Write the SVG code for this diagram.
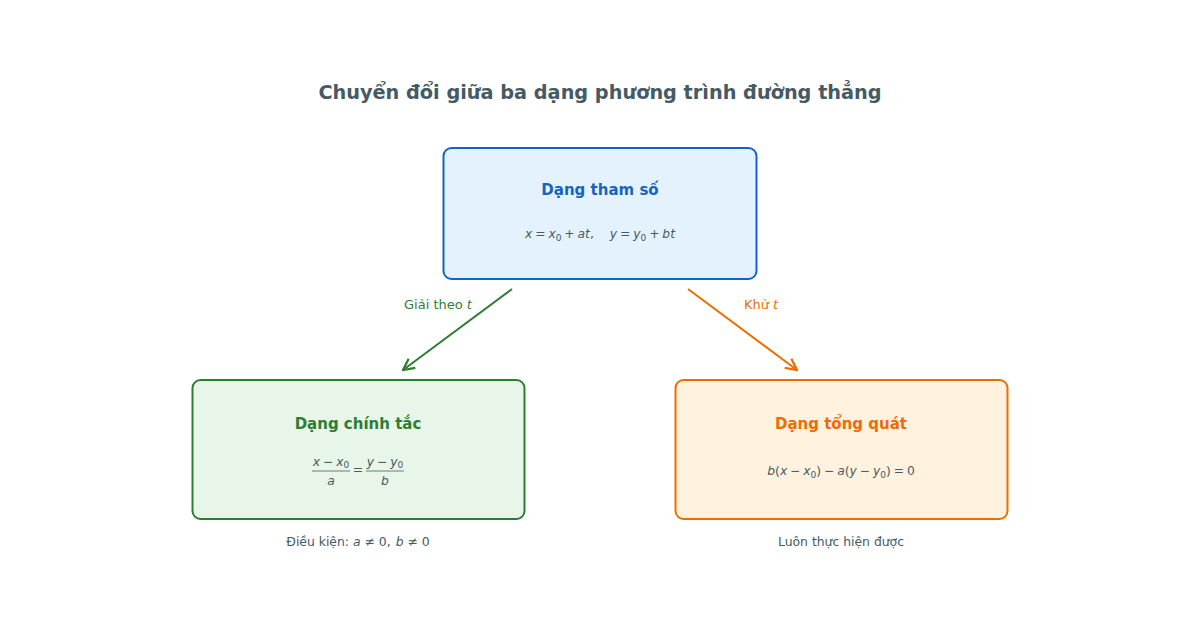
<svg xmlns="http://www.w3.org/2000/svg" width="1200" height="628" viewBox="0 0 1200 628">
<defs>
<style>
text{font-family:"DejaVu Sans","Noto Sans",sans-serif;}
.title{font-size:19.3px;font-weight:bold;fill:#455a64;}
.ntitle{font-size:15px;font-weight:bold;}
.math{font-size:12.3px;fill:#455a64;word-spacing:-1px;}
.i{font-style:italic;}
.sub{font-size:9px;}
.cap{font-size:12.4px;fill:#455a64;}
.lbl{font-size:13px;}
</style>
<marker id="ag" viewBox="0 0 10 10" refX="9" refY="5" markerWidth="7" markerHeight="7" orient="auto-start-reverse"><path d="M1,1 L9,5 L1,9" fill="none" stroke="#2e7d32" stroke-width="1.6"/></marker>
<marker id="ao" viewBox="0 0 10 10" refX="9" refY="5" markerWidth="7" markerHeight="7" orient="auto-start-reverse"><path d="M1,1 L9,5 L1,9" fill="none" stroke="#ef6c00" stroke-width="1.6"/></marker>
</defs>
<rect width="1200" height="628" fill="#ffffff"/>
<text class="title" x="600" y="99" text-anchor="middle">Chuyển đổi giữa ba dạng phương trình đường thẳng</text>

<g id="connectors">
<line x1="512" y1="289" x2="403" y2="370" stroke="#2e7d32" stroke-width="2" marker-end="url(#ag)"/>
<line x1="688" y1="289" x2="797" y2="370" stroke="#ef6c00" stroke-width="2" marker-end="url(#ao)"/>
<text class="lbl" x="438" y="309" text-anchor="middle" fill="#2e7d32">Giải theo <tspan class="i">t</tspan></text>
<text class="lbl" x="761" y="309" text-anchor="middle" fill="#ef6c00">Khử <tspan class="i">t</tspan></text>
</g>

<g id="node-param">
<rect x="443.5" y="148" width="313" height="131" rx="8" fill="#e3f2fd" stroke="#1565c0" stroke-width="2"/>
<text class="ntitle" x="600" y="195" text-anchor="middle" fill="#1565c0">Dạng tham số</text>
<text class="math" x="600" y="238" text-anchor="middle"><tspan class="i">x</tspan> = <tspan class="i">x</tspan><tspan class="sub" dy="3">0</tspan><tspan dy="-3"> + </tspan><tspan class="i">at</tspan>,<tspan dx="16" class="i">y</tspan> = <tspan class="i">y</tspan><tspan class="sub" dy="3">0</tspan><tspan dy="-3"> + </tspan><tspan class="i">bt</tspan></text>
</g>

<g id="node-canon">
<rect x="192.5" y="380" width="332" height="139" rx="8" fill="#e8f5e9" stroke="#2e7d32" stroke-width="2"/>
<text class="ntitle" x="358" y="429" text-anchor="middle" fill="#2e7d32">Dạng chính tắc</text>
<text class="math" x="331" y="466" text-anchor="middle"><tspan class="i">x</tspan> − <tspan class="i">x</tspan><tspan class="sub" dy="2">0</tspan></text>
<line x1="312" y1="471" x2="350" y2="471" stroke="#455a64" stroke-width="0.8"/>
<text class="math i" x="331" y="485" text-anchor="middle">a</text>
<text class="math" x="358" y="474" text-anchor="middle">=</text>
<text class="math" x="385" y="466" text-anchor="middle"><tspan class="i">y</tspan> − <tspan class="i">y</tspan><tspan class="sub" dy="2">0</tspan></text>
<line x1="366" y1="471" x2="404" y2="471" stroke="#455a64" stroke-width="0.8"/>
<text class="math i" x="385" y="485" text-anchor="middle">b</text>
<text class="cap" x="358" y="546" text-anchor="middle">Điều kiện: <tspan class="i">a</tspan> ≠ 0,<tspan dx="5" class="i">b</tspan> ≠ 0</text>
</g>

<g id="node-general">
<rect x="675.5" y="380" width="332" height="139" rx="8" fill="#fff3e0" stroke="#ef6c00" stroke-width="2"/>
<text class="ntitle" x="841" y="429" text-anchor="middle" fill="#ef6c00">Dạng tổng quát</text>
<text class="math" x="841" y="475" text-anchor="middle"><tspan class="i">b</tspan>(<tspan class="i">x</tspan> − <tspan class="i">x</tspan><tspan class="sub" dy="3">0</tspan><tspan dy="-3">) − </tspan><tspan class="i">a</tspan>(<tspan class="i">y</tspan> − <tspan class="i">y</tspan><tspan class="sub" dy="3">0</tspan><tspan dy="-3">) = 0</tspan></text>
<text class="cap" x="841" y="546" text-anchor="middle">Luôn thực hiện được</text>
</g>
</svg>
